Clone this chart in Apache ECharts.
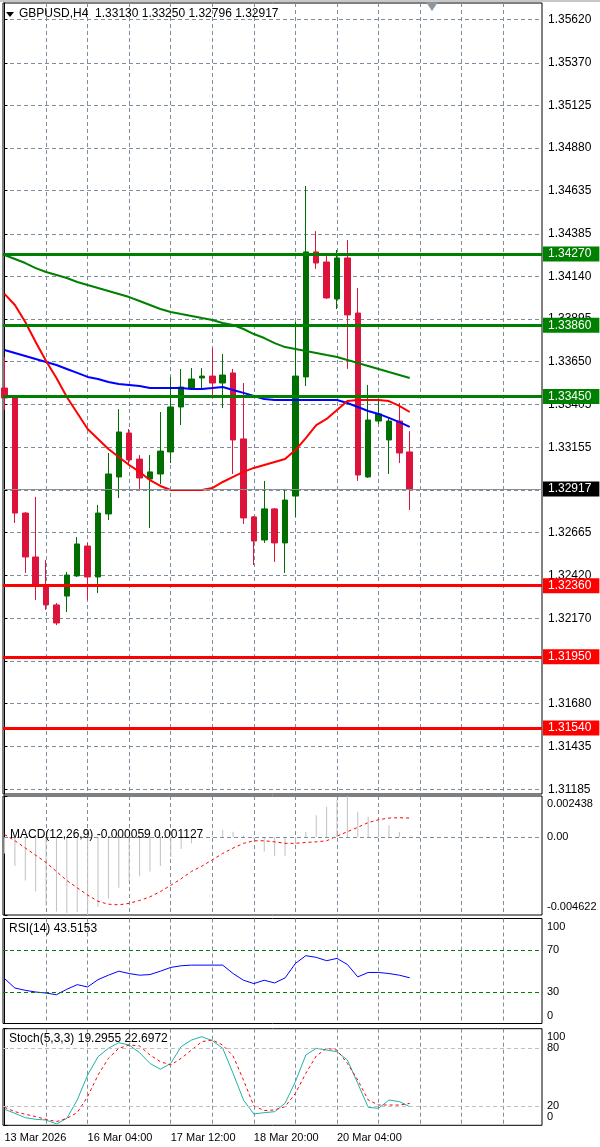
<!DOCTYPE html>
<html><head><meta charset="utf-8">
<script src="https://cdn.jsdelivr.net/npm/echarts@6/dist/echarts.min.js"></script>
<style>html,body{margin:0;padding:0;background:#fff}#c{width:600px;height:1147px}</style>
</head><body><div id="c"></div>
<script>
// ---------------- data ----------------
const symbolName = 'GBPUSD,H4';
const timeLabels = ['13 Mar 2026', '16 Mar 04:00', '17 Mar 12:00', '18 Mar 20:00', '20 Mar 04:00'];
const timeLabelBars = [0, 8, 16, 24, 32];

const openP  = [1.33498,1.33441,1.32778,1.32525,1.32364,1.32249,1.32300,1.32416,1.32588,1.32410,1.32773,1.32986,1.33239,1.33089,1.32974,1.33003,1.33130,1.33389,1.33498,1.33556,1.33567,1.33527,1.33585,1.33205,1.32756,1.32623,1.32802,1.32606,1.32876,1.33562,1.34282,1.34224,1.34011,1.34247,1.33930,1.32986,1.33308,1.33199,1.33308,1.33130];
const closeP = [1.33441,1.32778,1.32525,1.32364,1.32249,1.32145,1.32421,1.32600,1.32410,1.32778,1.33003,1.33245,1.33084,1.32980,1.33015,1.33135,1.33389,1.33504,1.33550,1.33567,1.33527,1.33573,1.33199,1.32750,1.32617,1.32802,1.32606,1.32853,1.33567,1.34282,1.34218,1.34017,1.34247,1.33919,1.32997,1.33314,1.33349,1.33308,1.33124,1.32917];
const highP  = [1.33677,1.33445,1.32784,1.32871,1.32508,1.32260,1.32439,1.32640,1.32606,1.32825,1.33124,1.33377,1.33262,1.33112,1.33112,1.33360,1.33562,1.33608,1.33613,1.33613,1.33729,1.33694,1.33608,1.33527,1.32761,1.32963,1.32807,1.32917,1.33878,1.34662,1.34402,1.34276,1.34293,1.34351,1.34074,1.33516,1.33435,1.33326,1.33412,1.33250];
const lowP   = [1.33372,1.32721,1.32433,1.32277,1.32220,1.32133,1.32208,1.32410,1.32277,1.32318,1.32738,1.32865,1.33055,1.32911,1.32692,1.32945,1.33066,1.33285,1.33487,1.33498,1.33458,1.33383,1.33003,1.32715,1.32479,1.32606,1.32497,1.32433,1.32756,1.33510,1.34184,1.34011,1.33953,1.33608,1.32963,1.32980,1.33291,1.33003,1.33066,1.32796];

const maGreen = [1.34264,1.34241,1.34218,1.34189,1.34166,1.34149,1.34132,1.34109,1.34091,1.34074,1.34057,1.34040,1.34022,1.33999,1.33976,1.33953,1.33936,1.33924,1.33913,1.33901,1.33890,1.33873,1.33861,1.33838,1.33809,1.33786,1.33757,1.33734,1.33723,1.33711,1.33700,1.33688,1.33677,1.33660,1.33642,1.33625,1.33608,1.33590,1.33573,1.33556];
const maBlue  = [1.33717,1.33700,1.33683,1.33665,1.33648,1.33631,1.33608,1.33585,1.33562,1.33550,1.33533,1.33521,1.33516,1.33510,1.33498,1.33498,1.33498,1.33498,1.33493,1.33493,1.33498,1.33504,1.33487,1.33470,1.33452,1.33435,1.33429,1.33429,1.33429,1.33429,1.33429,1.33429,1.33429,1.33412,1.33389,1.33366,1.33349,1.33326,1.33302,1.33274];
const maRed   = [1.34040,1.33976,1.33878,1.33763,1.33654,1.33556,1.33446,1.33354,1.33262,1.33205,1.33147,1.33101,1.33055,1.33015,1.32968,1.32934,1.32911,1.32911,1.32911,1.32911,1.32922,1.32957,1.32986,1.33015,1.33038,1.33055,1.33072,1.33089,1.33141,1.33210,1.33285,1.33320,1.33372,1.33423,1.33429,1.33429,1.33429,1.33423,1.33395,1.33360];

const resistLevels = [1.34270, 1.33860, 1.33450];
const supportLevels = [1.32360, 1.31950, 1.31540];
const lastPrice = 1.32917;
const priceTicks = [1.35620,1.35370,1.35125,1.34880,1.34635,1.34385,1.34140,1.33895,1.33650,1.33405,1.33155,1.32910,1.32665,1.32420,1.32170,1.31925,1.31680,1.31435,1.31185];

const macdHist   = [-0.00097,-0.00172,-0.00258,-0.00322,-0.00408,-0.00441,-0.00451,-0.00445,-0.004622,-0.00415,-0.00365,-0.00301,-0.00264,-0.00232,-0.00204,-0.00172,-0.00118,-0.00071,-0.00037,-0.00006,0.00010,0.00043,0.00032,0.00010,-0.00010,-0.00086,-0.00114,-0.00114,-0.00043,0.00032,0.00130,0.00180,0.00220,0.002438,0.00150,0.00120,0.00100,0.00070,0.00030,-0.000059];
const macdSignal = [0.00015,-0.000215,-0.000645,-0.001075,-0.001505,-0.00204,-0.00258,-0.00301,-0.00344,-0.00381,-0.00398,-0.00402,-0.00393,-0.00376,-0.00355,-0.00323,-0.00286,-0.00247,-0.00204,-0.00172,-0.00135,-0.00097,-0.00065,-0.00037,-0.00022,-0.00022,-0.00028,-0.00037,-0.00037,-0.00032,-0.00028,-0.00022,0.00006,0.00032,0.00058,0.00086,0.00103,0.00113,0.00115,0.001127];
const macdTicks = [-0.004622, 0, 0.002438];

const rsiValues = [42.8,33.8,31.6,30,29,27.4,32.6,37,34.8,41.8,46,49.8,47.6,46,46.6,49.8,53.4,55,55.6,55.6,55.6,55.6,47.6,41.2,38,41.2,38.6,43.4,57.2,64.6,63,59.8,62,56.2,44.4,48.6,48.6,47.6,46,43.5153];
const rsiLevels = [70, 30];
const rsiTicks = [0, 30, 70, 100];

const stochMain   = [16.6,12.4,7.9,6.2,5.5,1.4,7.2,26.2,52,71,79.7,85.5,83.1,75.2,64.1,58,64.1,81.4,88.3,91.7,87.6,79.7,53.8,26.2,11.7,13.1,14.1,22.8,45.2,72.8,79.7,77.9,76.2,67.6,43.4,18.6,17.6,26.2,24.5,19.2955];
const stochSignal = [18.6,14.1,11.4,9,6.2,3.8,7.2,13.1,29.7,52,69.3,79.7,83.1,82.1,72.8,65.9,62.4,69.3,77.9,86.6,88.3,83.1,71.7,46.9,20,15.2,15.9,19.3,33.1,53.8,71.7,79.7,77.9,64.1,46.9,26.2,21,21,21,22.6972];
const stochLevels = [80, 20];
const stochTicks = [0, 20, 80, 100];

// ---------------- chart ----------------
const FONT = 'Liberation Sans';
const FS = 11;
const FS_P = 12;
const GRID_C = '#7f8e9e';
const X_MIN = -0.144, X_MAX = 51.73;
const P_MIN = 1.311601, P_MAX = 1.357155;
const gridBars = []; for (let k = 4; k <= 48; k += 4) gridBars.push(k);
const last = closeP.length - 1;
const pts = arr => arr.map((v, i) => [i, v]);

const grids = [
  {top: 3, height: 791},
  {top: 796, height: 119},
  {top: 918.5, height: 105},
  {top: 1028.7, height: 96.6}
].map(g => Object.assign({left: 3, right: 58, show: true, borderColor: '#000', borderWidth: 1, backgroundColor: '#fff'}, g));

function xAxisFor(gi) {
  const bottom = gi === 3;
  return {
    type: 'value', gridIndex: gi, min: X_MIN, max: X_MAX,
    axisLine: {show: false},
    axisTick: {show: false, customValues: gridBars},
    splitLine: {show: true, lineStyle: {color: GRID_C, type: [4, 3], width: 1}},
    axisLabel: bottom ? {
      show: true, customValues: timeLabelBars, align: 'left', margin: 7,
      color: '#000', fontFamily: FONT, fontSize: FS,
      formatter: v => timeLabels[timeLabelBars.indexOf(v)] || ''
    } : {show: false}
  };
}
const rich = {
  t: {padding: [16, 0, 0, 0], color: '#000', fontFamily: FONT, fontSize: FS},
  b: {padding: [0, 0, 16, 0], color: '#000', fontFamily: FONT, fontSize: FS}
};
function subY(gi, min, max, ticks, fmt) {
  return {
    type: 'value', gridIndex: gi, position: 'right', min, max,
    axisLine: {show: true, lineStyle: {color: '#000'}},
    axisTick: {show: true, length: 3, customValues: ticks, lineStyle: {color: '#000'}},
    splitLine: {show: false},
    axisLabel: {
      show: true, customValues: ticks, margin: 5, color: '#000', fontFamily: FONT, fontSize: FS,
      formatter: v => v === max ? '{t|' + fmt(v) + '}' : (v === min ? '{b|' + fmt(v) + '}' : fmt(v)),
      rich
    }
  };
}
function levelLine(v, color, width, bg) {
  return {
    yAxis: v,
    lineStyle: {color, width, type: 'solid'},
    label: {show: true, position: 'end', distance: 1, formatter: v.toFixed(5),
      color: '#fff', backgroundColor: bg, padding: [2, 8, 1, 5], fontFamily: FONT, fontSize: FS_P}
  };
}
function levelMarks(list) {
  return {silent: true, symbol: ['none', 'none'], animation: false, precision: 8, data: list};
}
function dashedLevels(levels, color) {
  return {silent: true, symbol: ['none', 'none'], animation: false, precision: 8,
    label: {show: false},
    lineStyle: {color, type: [4, 3], width: 1},
    data: levels.map(v => ({yAxis: v}))};
}
const headFont = FS_P + 'px "' + FONT + '"';

const option = {
  animation: false,
  backgroundColor: '#fff',
  grid: grids,
  xAxis: [0, 1, 2, 3].map(xAxisFor),
  yAxis: [
    {
      type: 'value', gridIndex: 0, position: 'right', min: P_MIN, max: P_MAX,
      axisLine: {show: true, lineStyle: {color: '#000'}},
      axisTick: {show: true, length: 3, customValues: priceTicks, lineStyle: {color: '#000'}},
      splitLine: {show: true, lineStyle: {color: GRID_C, type: [4, 3], width: 1}},
      axisLabel: {show: true, customValues: priceTicks, margin: 6, color: '#000',
        fontFamily: FONT, fontSize: FS_P, formatter: v => v.toFixed(5)}
    },
    subY(1, macdTicks[0], macdTicks[2], macdTicks, v => v === 0 ? '0.00' : v.toFixed(6)),
    subY(2, 0, 100, rsiTicks, v => String(v)),
    subY(3, 0, 100, stochTicks, v => String(v))
  ],
  series: [
    {
      type: 'candlestick', xAxisIndex: 0, yAxisIndex: 0, barWidth: 6,
      data: openP.map((o, i) => [i, o, closeP[i], lowP[i], highP[i]]),
      itemStyle: {color: '#006e00', color0: '#dc143c', borderColor: '#006e00', borderColor0: '#dc143c', borderWidth: 1}
    },
    {
      type: 'line', xAxisIndex: 0, yAxisIndex: 0, data: pts(maGreen), symbol: 'none',
      lineStyle: {color: '#008000', width: 2},
      markLine: levelMarks(resistLevels.map(v => levelLine(v, '#008000', 3, '#008000')))
    },
    {
      type: 'line', xAxisIndex: 0, yAxisIndex: 0, data: pts(maBlue), symbol: 'none',
      lineStyle: {color: '#0000ff', width: 2},
      markLine: levelMarks([levelLine(lastPrice, '#8a8f96', 1, '#000')])
    },
    {
      type: 'line', xAxisIndex: 0, yAxisIndex: 0, data: pts(maRed), symbol: 'none',
      lineStyle: {color: '#ff0000', width: 2},
      markLine: levelMarks(supportLevels.map(v => levelLine(v, '#ff0000', 3, '#ff0000')))
    },
    // MACD
    {
      type: 'bar', xAxisIndex: 1, yAxisIndex: 1, data: pts(macdHist), barWidth: 1,
      itemStyle: {color: '#c0c0c0'},
      markLine: dashedLevels([0], GRID_C)
    },
    {
      type: 'line', xAxisIndex: 1, yAxisIndex: 1, data: pts(macdSignal), symbol: 'none',
      lineStyle: {color: '#ff0000', width: 1, type: [3, 3]}
    },
    // RSI
    {
      type: 'line', xAxisIndex: 2, yAxisIndex: 2, data: pts(rsiValues), symbol: 'none',
      lineStyle: {color: '#0000ff', width: 1},
      markLine: dashedLevels(rsiLevels, '#008000')
    },
    // Stochastic
    {
      type: 'line', xAxisIndex: 3, yAxisIndex: 3, data: pts(stochMain), symbol: 'none',
      lineStyle: {color: '#20b2aa', width: 1},
      markLine: dashedLevels(stochLevels, '#c0c0c0')
    },
    {
      type: 'line', xAxisIndex: 3, yAxisIndex: 3, data: pts(stochSignal), symbol: 'none',
      lineStyle: {color: '#ff0000', width: 1, type: [3, 3]}
    }
  ],
  graphic: [
    {type: 'rect', left: 0, top: 0, shape: {width: 600, height: 2}, style: {fill: '#c8c8c8'}, z: 100},
    {type: 'polygon', shape: {points: [[6, 12], [14, 12], [10, 17]]}, style: {fill: '#000'}, z: 100},
    {type: 'polygon', shape: {points: [[426, 2], [438, 2], [432, 11]]}, style: {fill: '#8e969e'}, z: 100},
    {type: 'text', left: 19, top: 8, z: 100, style: {
      text: symbolName + '  ' + [openP[last], highP[last], lowP[last], closeP[last]].map(v => v.toFixed(5)).join(' '),
      fill: '#000', font: headFont}},
    {type: 'text', left: 10, top: 829, z: 100, style: {
      text: 'MACD(12,26,9) ' + macdHist[last].toFixed(6) + ' ' + macdSignal[last].toFixed(6),
      fill: '#000', font: headFont}},
    {type: 'text', left: 9, top: 923, z: 100, style: {
      text: 'RSI(14) ' + rsiValues[last].toFixed(4),
      fill: '#000', font: headFont}},
    {type: 'text', left: 9, top: 1033, z: 100, style: {
      text: 'Stoch(5,3,3) ' + stochMain[last].toFixed(4) + ' ' + stochSignal[last].toFixed(4),
      fill: '#000', font: headFont}}
  ]
};

const chart = echarts.init(document.getElementById('c'), null, {renderer: 'canvas', width: 600, height: 1147});
chart.setOption(option);
</script>
</body></html>
